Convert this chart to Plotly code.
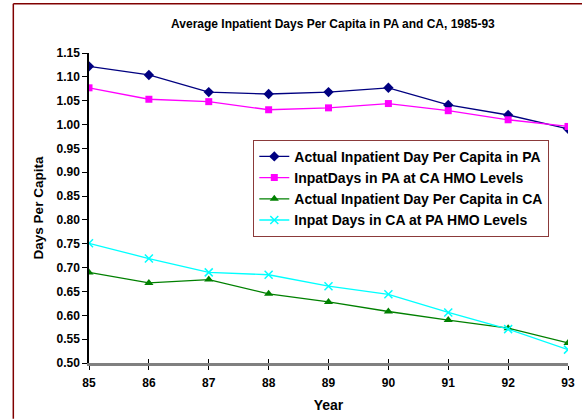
import plotly.graph_objects as go

years = [85, 86, 87, 88, 89, 90, 91, 92, 93]
pa_actual = [1.122, 1.104, 1.068, 1.064, 1.068, 1.077, 1.041, 1.020, 0.991]
pa_at_ca = [1.077, 1.053, 1.048, 1.031, 1.035, 1.044, 1.029, 1.010, 0.996]
ca_actual = [0.690, 0.668, 0.675, 0.645, 0.628, 0.608, 0.590, 0.573, 0.542]
ca_at_pa = [0.751, 0.719, 0.690, 0.685, 0.661, 0.644, 0.606, 0.571, 0.528]

names = [
    "Actual Inpatient Day Per Capita in PA",
    "InpatDays in PA at CA HMO Levels",
    "Actual Inpatient Day Per Capita in CA",
    "Inpat Days in CA at PA HMO Levels",
]
yticks = [0.50, 0.55, 0.60, 0.65, 0.70, 0.75, 0.80, 0.85, 0.90, 0.95, 1.00, 1.05, 1.10, 1.15]

FONT = "Arial, Liberation Sans, sans-serif"

fig = go.Figure()
fig.add_trace(go.Scatter(x=years, y=pa_actual, name=names[0], mode="lines+markers",
                         line=dict(color="#000080", width=1.3),
                         marker=dict(symbol="diamond", size=8, color="#000080")))
fig.add_trace(go.Scatter(x=years, y=pa_at_ca, name=names[1], mode="lines+markers",
                         line=dict(color="#FF00FF", width=1.3),
                         marker=dict(symbol="square", size=7, color="#FF00FF")))
fig.add_trace(go.Scatter(x=years, y=ca_actual, name=names[2], mode="lines+markers",
                         line=dict(color="#008000", width=1.3),
                         marker=dict(symbol="triangle-up", size=8, color="#008000")))
fig.add_trace(go.Scatter(x=years, y=ca_at_pa, name=names[3], mode="lines+markers",
                         line=dict(color="#00FFFF", width=1.3),
                         marker=dict(symbol="x-thin-open", size=8,
                                     line=dict(color="#00FFFF", width=1.5))))

# invisible trace on overlay axes to show inside ticks (crossing tick marks)
fig.add_trace(go.Scatter(x=[years[0]], y=[yticks[0]], xaxis="x2", yaxis="y2",
                         mode="markers", marker=dict(opacity=0), showlegend=False,
                         hoverinfo="skip"))

tickfont = dict(family=FONT, size=12, color="black", weight="bold")

fig.update_layout(
    width=582, height=419,
    margin=dict(l=89, r=14, t=53, b=56, autoexpand=False),
    paper_bgcolor="white", plot_bgcolor="white",
    font=dict(family=FONT, color="black"),
    title=dict(text="<b>Average Inpatient Days Per Capita in PA and CA, 1985-93</b>",
               x=0.572, xanchor="center", y=0.943, yanchor="middle",
               font=dict(family=FONT, size=12, color="black")),
    xaxis=dict(range=[85, 93], tickmode="array", tickvals=years,
               ticktext=[str(y) for y in years],
               showgrid=False, zeroline=False, showline=True, automargin=False,
               linecolor="#808080", linewidth=2.5,
               ticks="outside", ticklen=4, tickcolor="black", tickwidth=1,
               ticklabelstandoff=3,
               tickfont=tickfont,
               title=dict(text="<b>Year</b>", font=dict(family=FONT, size=14, color="black"),
                          standoff=12)),
    yaxis=dict(range=[0.50, 1.15], tickmode="array", tickvals=yticks,
               ticktext=["%.2f" % v for v in yticks],
               showgrid=False, zeroline=False, showline=True, automargin=False,
               linecolor="black", linewidth=1.5,
               ticks="outside", ticklen=5, tickcolor="black", tickwidth=1,
               tickfont=tickfont,
               title=dict(text="<b>Days Per Capita</b>", font=dict(family=FONT, size=13.5, color="black"),
                          standoff=10)),
    xaxis2=dict(range=[85, 93], overlaying="x", tickmode="array", tickvals=years,
                showticklabels=False, showgrid=False, zeroline=False, showline=False,
                automargin=False,
                ticks="inside", ticklen=4, tickcolor="black", tickwidth=1, side="bottom"),
    yaxis2=dict(range=[0.50, 1.15], overlaying="y", tickmode="array", tickvals=yticks[:1],
                showticklabels=False, showgrid=False, zeroline=False, showline=False,
                automargin=False,
                ticks="inside", ticklen=4, tickcolor="black", tickwidth=1),
    legend=dict(x=0.343, y=0.72, xanchor="left", yanchor="top",
                bgcolor="white", bordercolor="#8B3A3A", borderwidth=1,
                font=dict(family=FONT, size=14, color="black", weight="bold"),
                tracegroupgap=0, itemwidth=30),
    shapes=[
        dict(type="line", xref="paper", yref="paper",
             x0=-0.158, x1=1.03, y0=1.159, y1=1.159,
             line=dict(color="#800000", width=1.5), layer="below"),
        dict(type="line", xref="paper", yref="paper",
             x0=-0.158, x1=-0.158, y0=-0.18, y1=1.159,
             line=dict(color="#800000", width=1.5), layer="below"),
    ],
    showlegend=True,
)

fig.write_html("out.html", config={"displayModeBar": False})
